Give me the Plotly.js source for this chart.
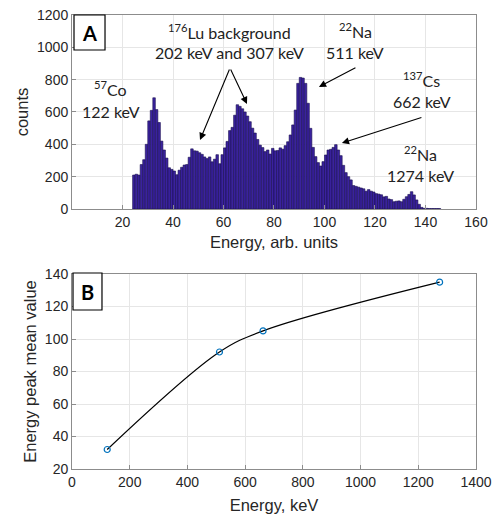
<!DOCTYPE html>
<html>
<head>
<meta charset="utf-8">
<script src="https://cdn.plot.ly/plotly-3.0.1.min.js"></script>
<style>html,body{margin:0;padding:0;background:#fff;}#chart{width:497px;height:514px;}</style>
</head>
<body>
<div id="chart"></div>
<script>
// Panel A: histogram of energies (arb. units), bins of width 1 starting at 24
const binStart = 24;
const binWidth = 1;
const counts = [
  210, 215, 210, 275, 305, 400, 545, 610, 688, 615,
  535, 420, 365, 315, 255, 245, 235, 212, 240, 258,
  272, 275, 320, 372, 360, 358, 348, 338, 322, 312,
  322, 292, 308, 336, 280, 336, 378, 418, 485, 505,
  580, 645, 635, 620, 600, 575, 540, 500, 470, 430,
  395, 380, 355, 365, 340, 375, 360, 362, 378, 370,
  392, 416, 458, 520, 612, 777, 814, 810, 777, 654,
  499, 381, 324, 287, 266, 293, 334, 365, 369, 381,
  398, 365, 330, 270, 225, 200, 180, 145, 140, 135,
  130, 125, 110, 120, 110, 105, 95, 92, 88, 75,
  78, 62, 58, 45, 48, 50, 45, 60, 76, 90,
  107, 87, 56, 29, 10, 4, 4, 3, 3, 3,
  3, 3
];
const binCenters = counts.map((_, i) => binStart + binWidth * (i + 0.5));

// Panel B: calibration points
const energyKeV = [122, 511, 662, 1274];
const peakMean = [32, 92, 105, 135];

// Axis ticks
const xTicksA = [20, 40, 60, 80, 100, 120, 140, 160];
const yTicksA = [0, 200, 400, 600, 800, 1000, 1200];
const xTicksB = [0, 200, 400, 600, 800, 1000, 1200, 1400];
const yTicksB = [20, 40, 60, 80, 100, 120, 140];

const txt = '#262626';
const tickFont = {family: 'Liberation Sans, Arial, sans-serif', size: 14, color: txt};
const titleFont = {family: 'Liberation Sans, Arial, sans-serif', size: 16.5, color: txt};
const annFont = {family: 'Lato, Open Sans, sans-serif', size: 16, color: '#222'};

const axisCommon = {
  showline: true, mirror: true, linecolor: '#8c8c8c', linewidth: 1,
  showgrid: true, gridcolor: '#e6e6e6', gridwidth: 1,
  ticks: 'inside', ticklen: 4, tickcolor: '#8c8c8c',
  zeroline: false, tickfont: tickFont, fixedrange: true
};

const traces = [
  {
    type: 'bar', x: binCenters, y: counts, width: binWidth,
    marker: {color: '#3a229e', line: {color: '#1a0f4f', width: 0.6}},
    xaxis: 'x', yaxis: 'y', hoverinfo: 'skip'
  },
  {
    type: 'scatter', mode: 'lines', x: energyKeV, y: peakMean,
    line: {color: '#000', width: 1.2, shape: 'spline', smoothing: 1},
    xaxis: 'x2', yaxis: 'y2', hoverinfo: 'skip'
  },
  {
    type: 'scatter', mode: 'markers', x: energyKeV, y: peakMean,
    marker: {symbol: 'circle-open', size: 6, color: '#0072BD', line: {width: 1.2}},
    xaxis: 'x2', yaxis: 'y2', hoverinfo: 'skip'
  }
];

function label(x, y, text) {
  return {x: x, y: y, xref: 'x', yref: 'y', text: text,
          showarrow: false, font: annFont, xanchor: 'center', yanchor: 'middle'};
}
function arrow(x, y, ax, ay) {
  return {x: x, y: y, xref: 'x', yref: 'y', ax: ax, ay: ay, text: '',
          showarrow: true, arrowhead: 2, arrowsize: 1.3, arrowwidth: 1.1, arrowcolor: '#000'};
}

const annotations = [
  label(15.4, 748, '<sup>57</sup>Co'),
  label(15.4, 606, '122 keV'),
  label(62.2, 1095, '<sup>176</sup>Lu background'),
  label(62.2, 965, '202 keV and 307 keV'),
  label(112.1, 1107, '<sup>22</sup>Na'),
  label(112.1, 965, '511 keV'),
  label(138.6, 798, '<sup>137</sup>Cs'),
  label(138.6, 662, '662 keV'),
  label(138.2, 346, '<sup>22</sup>Na'),
  label(138.2, 210, '1274 keV'),
  arrow(50.7, 427, 30, -72),
  arrow(69.3, 650, -17, -36),
  arrow(97.8, 755, 38, -20),
  arrow(106.9, 408, 81, -26),
  {x: 0.181, y: 0.9358, xref: 'paper', yref: 'paper', text: '<b>A</b>', showarrow: false,
   xanchor: 'center', yanchor: 'middle',
   font: {family: 'Lato, Open Sans, sans-serif', size: 20, color: '#000'}},
  {x: 0.176, y: 0.4319, xref: 'paper', yref: 'paper', text: '<b>B</b>', showarrow: false,
   xanchor: 'center', yanchor: 'middle',
   font: {family: 'Lato, Open Sans, sans-serif', size: 20, color: '#000'}}
];

const shapes = [
  {type: 'rect', xref: 'paper', yref: 'paper', x0: 0.1489, x1: 0.2113, y0: 0.9027, y1: 0.9708,
   line: {color: '#000', width: 1.2}, fillcolor: '#fff', layer: 'above'},
  {type: 'rect', xref: 'paper', yref: 'paper', x0: 0.1469, x1: 0.2052, y0: 0.3969, y1: 0.4689,
   line: {color: '#000', width: 1.2}, fillcolor: '#fff', layer: 'above'}
];

const layout = {
  width: 497, height: 514,
  margin: {l: 0, r: 0, t: 0, b: 0},
  paper_bgcolor: '#fff', plot_bgcolor: '#fff',
  showlegend: false, bargap: 0,
  xaxis: Object.assign({}, axisCommon, {
    domain: [0.1449, 0.9577], range: [0, 160], tickvals: xTicksA,
    title: {text: 'Energy, arb. units', font: titleFont, standoff: 7}, anchor: 'y'
  }),
  yaxis: Object.assign({}, axisCommon, {
    domain: [0.5934, 0.9708], range: [0, 1200], tickvals: yTicksA,
    title: {text: 'counts', font: titleFont, standoff: 4}, anchor: 'x'
  }),
  xaxis2: Object.assign({}, axisCommon, {
    domain: [0.1449, 0.9577], range: [0, 1400], tickvals: xTicksB,
    title: {text: 'Energy, keV', font: titleFont, standoff: 12}, anchor: 'y2'
  }),
  yaxis2: Object.assign({}, axisCommon, {
    domain: [0.0875, 0.4669], range: [20, 140], tickvals: yTicksB,
    title: {text: 'Energy peak mean value', font: titleFont, standoff: 4}, anchor: 'x2'
  }),
  annotations: annotations,
  shapes: shapes
};

Plotly.newPlot('chart', traces, layout, {displayModeBar: false, staticPlot: true});
</script>
</body>
</html>
